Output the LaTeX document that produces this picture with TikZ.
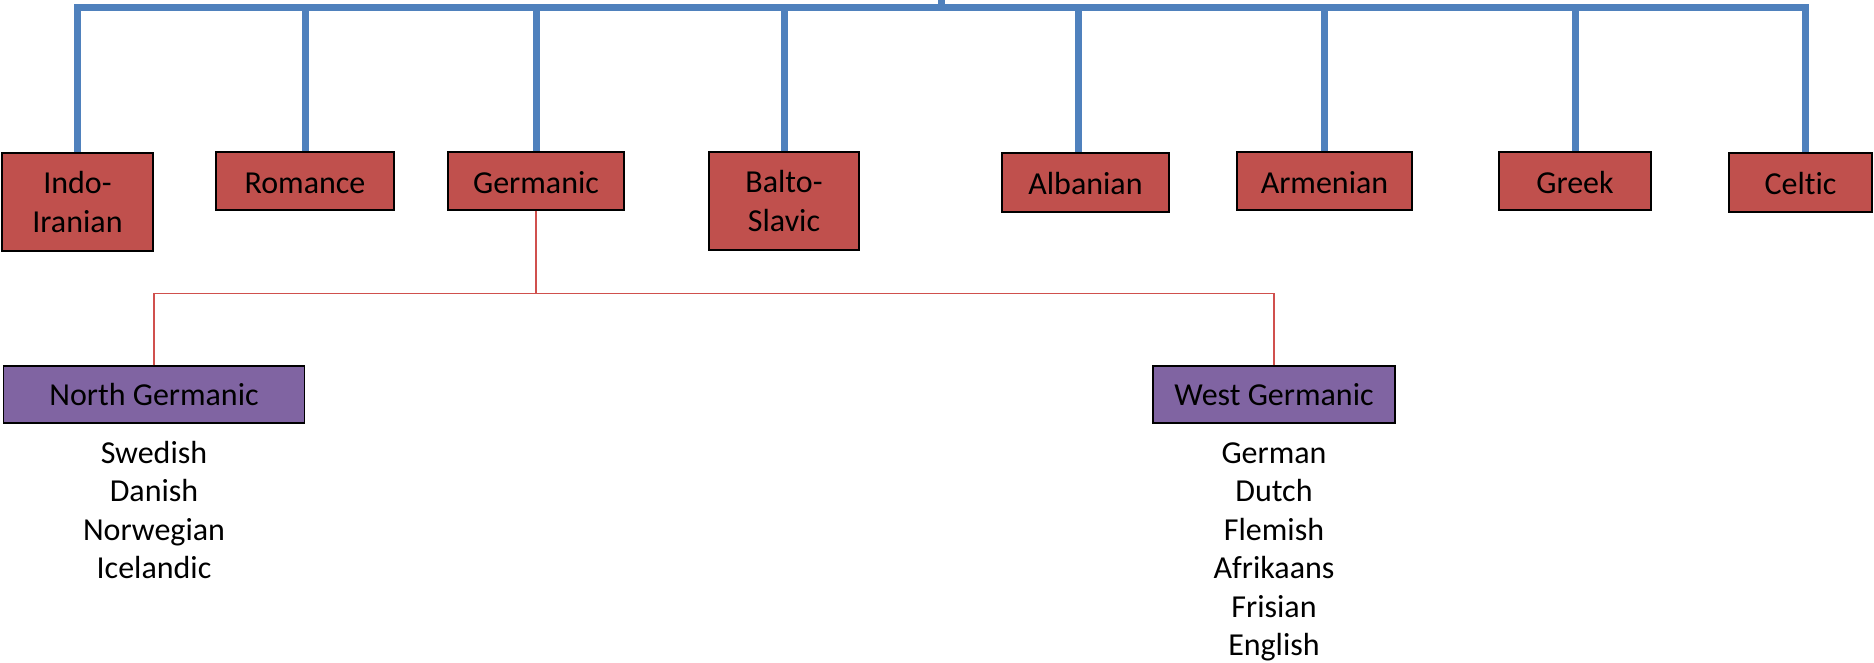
\documentclass[tikz,border=0pt]{standalone}
\usepackage{fontspec}
\setmainfont{Carlito}[Ligatures={NoCommon}]
\definecolor{famred}{HTML}{C0504D}
\definecolor{fampurple}{HTML}{8064A2}
\definecolor{barblue}{HTML}{4F81BD}
\definecolor{linkred}{HTML}{D0504D}
\tikzset{
  famtext/.style={font=\fontsize{16}{19.5}\selectfont},
  fambox/.style={famtext, draw=black, line width=0.75pt, fill=famred, inner sep=0pt, align=center},
  onerow/.style={text height=12.3pt, text depth=0pt},
  subbox/.style={famtext, draw=black, line width=0.75pt, fill=fampurple, inner sep=0pt, align=center},
  blueline/.style={draw=barblue, line width=3.5pt},
  redline/.style={draw=linkred, line width=0.6pt},
  langitem/.style={famtext, anchor=base, inner sep=0pt}
}
\begin{document}
\begin{tikzpicture}[x=0.5pt,y=-0.5pt]
\useasboundingbox (0,0) rectangle (1874,663);
% top-level families
\node[fambox, minimum width=75.5pt, minimum height=49pt] (indo) at (77.5,202) {Indo-\\Iranian};
\node[fambox, onerow, minimum width=89pt, minimum height=29pt] (rom) at (305,181) {Romance};
\node[fambox, onerow, minimum width=88pt, minimum height=29pt] (germ) at (536,181) {Germanic};
\node[fambox, minimum width=75pt, minimum height=49pt] (balto) at (784,201) {Balto-\\Slavic};
\node[fambox, onerow, minimum width=83.5pt, minimum height=29.5pt] (alb) at (1085.5,182.5) {Albanian};
\node[fambox, onerow, minimum width=87.5pt, minimum height=29pt] (arm) at (1324.5,181) {Armenian};
\node[fambox, onerow, minimum width=76pt, minimum height=29pt] (greek) at (1575,181) {Greek};
\node[fambox, onerow, minimum width=71.5pt, minimum height=29.5pt] (celt) at (1800.5,182.5) {Celtic};
% Germanic branches
\node[subbox, minimum width=150.5pt, minimum height=28.5pt] (north) at (154,394.5) {North Germanic};
\node[subbox, minimum width=121pt, minimum height=28.5pt] (west) at (1274,394.5) {West Germanic};
% languages
\node[langitem] (sw) at (154,463) {Swedish};
\node[langitem] (da) at (154,501.5) {Danish};
\node[langitem] (no) at (154,540) {Norwegian};
\node[langitem] (ic) at (154,578.5) {Icelandic};
\node[langitem] (ge) at (1274,463) {German};
\node[langitem] (du) at (1274,501.5) {Dutch};
\node[langitem] (fl) at (1274,540) {Flemish};
\node[langitem] (af) at (1274,578.5) {Afrikaans};
\node[langitem] (fr) at (1274,617) {Frisian};
\node[langitem] (en) at (1274,655.5) {English};
% blue bar
\coordinate (bar) at (0,7.5);
\coordinate (root) at (941,0);
\coordinate (celtn) at ([xshift=2.25pt]celt.north);
\coordinate (albn) at ([xshift=-3.75pt]alb.north);
\draw[blueline] (indo.north) -- (indo.north |- bar) -- (celtn |- bar) -- (celtn);
\draw[blueline] (root) -- (root |- bar);
\foreach \n in {rom,germ,balto,arm,greek}
  \draw[blueline] (\n.north) -- (\n.north |- bar);
\draw[blueline] (albn) -- (albn |- bar);
% red links
\coordinate (split) at (0,293.5);
\draw[redline] (germ.south) -- (germ.south |- split);
\draw[redline] (north.north) -- (north.north |- split) -- (west.north |- split) -- (west.north);
\end{tikzpicture}
\end{document}
